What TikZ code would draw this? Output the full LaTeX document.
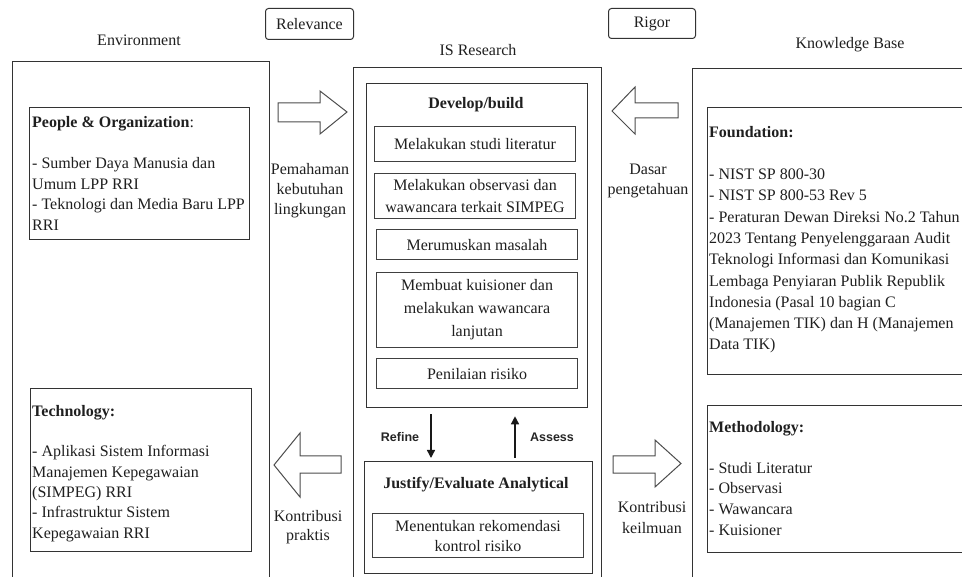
\documentclass[tikz,border=0pt]{standalone}
\usepackage{fontspec}
\setmainfont{Liberation Serif}
\newfontfamily\sansf{Liberation Sans}
\usetikzlibrary{arrows.meta}
\begin{document}
\begin{tikzpicture}[x=1pt,y=-1pt,
  box/.style={draw=black!80,line width=1.3pt,rectangle,inner sep=0pt,anchor=north west},
  inbox/.style={draw=black!75,line width=1.1pt,rectangle,inner sep=0pt,anchor=north west},
  tag/.style={draw=black!80,line width=1pt,rounded corners=3pt,rectangle,inner sep=0pt,anchor=north west},
  txt/.style={font=\fontsize{16}{20.5}\selectfont,inner sep=0pt,text=black!88},
  ltxt/.style={txt,align=left,anchor=base west},
  ctxt/.style={font=\fontsize{16}{22}\selectfont,inner sep=0pt,text=black!88,align=center},
  side/.style={font=\fontsize{16}{20}\selectfont,inner sep=0pt,text=black!88,align=center,anchor=base},
  blk/.style={draw=black!70,line width=1pt,line join=miter},
  flow/.style={draw=black!90,line width=1.4pt,-{Triangle[length=8pt,width=8pt]}},
  small/.style={font=\sansf\bfseries\fontsize{12.5}{14}\selectfont,inner sep=0pt,text=black!85}]
\useasboundingbox (0,0) rectangle (962,577);
\clip (0,0) rectangle (962,577);
% titles
\node[txt] (tenv) at (139,40) {Environment};
\node[txt] (tis) at (478,50) {IS Research};
\node[txt] (tkb) at (850,45) {Knowledge Base};
\node[tag,minimum width=88pt,minimum height=31pt] (relev) at (265,8) {};
\node[txt] (trelev) at (relev.center) {Relevance};
\node[tag,minimum width=87pt,minimum height=30pt] (rigor) at (608,8) {};
\node[txt] (trigor) at (rigor.center) {Rigor};
% outer columns
\node[box,minimum width=257pt,minimum height=540pt] (env) at (12,61) {};
\node[box,minimum width=248pt,minimum height=540pt] (isr) at (353,67) {};
\node[box,minimum width=290pt,minimum height=540pt] (kb) at (692,68) {};
% environment (anchor = baseline of the last line)
\node[box,minimum width=220pt,minimum height=132pt] (people) at (29,107) {};
\node[ltxt] (tpeople) at (32,230.5) {\textbf{People \& Organization}:\\ \\- Sumber Daya Manusia dan\\Umum LPP RRI\\- Teknologi dan Media Baru LPP\\RRI};
\node[box,minimum width=221pt,minimum height=163pt] (tech) at (30,388) {};
\node[ltxt,font=\fontsize{16}{20.3}\selectfont] (ttech) at (32,538) {\textbf{Technology:}\\ \\- Aplikasi Sistem Informasi\\Manajemen Kepegawaian\\(SIMPEG) RRI\\- Infrastruktur Sistem\\Kepegawaian RRI};
% knowledge base
\node[box,minimum width=270pt,minimum height=267pt] (found) at (707,107) {};
\node[ltxt,font=\fontsize{16}{21.3}\selectfont] (tfound) at (709,350) {\textbf{Foundation:}\\ \\- NIST SP 800-30\\- NIST SP 800-53 Rev 5\\- Peraturan Dewan Direksi No.2 Tahun\\2023 Tentang Penyelenggaraan Audit\\Teknologi Informasi dan Komunikasi\\Lembaga Penyiaran Publik Republik\\Indonesia (Pasal 10 bagian C\\(Manajemen TIK) dan H (Manajemen\\Data TIK)};
\node[box,minimum width=270pt,minimum height=147pt] (meth) at (707,405) {};
\node[ltxt,font=\fontsize{16}{20.6}\selectfont] (tmeth) at (709,535) {\textbf{Methodology:}\\ \\- Studi Literatur\\- Observasi\\- Wawancara\\- Kuisioner};
% IS research
\node[box,minimum width=221pt,minimum height=324pt] (dev) at (366,83) {};
\node[txt,font=\bfseries\fontsize{16}{20}\selectfont] (tdev) at (476,105) {Develop/build};
\node[inbox,minimum width=201pt,minimum height=35pt] (s1) at (374,126) {};
\node[ctxt] (ts1) at (s1.center) {Melakukan studi literatur};
\node[inbox,minimum width=201pt,minimum height=45pt] (s2) at (374,173) {};
\node[ctxt] (ts2) at (s2.center) {Melakukan observasi dan\\wawancara terkait SIMPEG};
\node[inbox,minimum width=201pt,minimum height=30pt] (s3) at (376,229) {};
\node[ctxt] (ts3) at (s3.center) {Merumuskan masalah};
\node[inbox,minimum width=201pt,minimum height=75pt] (s4) at (376,272) {};
\node[ctxt,font=\fontsize{16}{23}\selectfont] (ts4) at (s4.center) {Membuat kuisioner dan\\melakukan wawancara\\lanjutan};
\node[inbox,minimum width=201pt,minimum height=30pt] (s5) at (376,358) {};
\node[ctxt] (ts5) at (s5.center) {Penilaian risiko};
\node[box,minimum width=228pt,minimum height=112pt] (just) at (364,461) {};
\node[txt,font=\bfseries\fontsize{16}{20}\selectfont] (tjust) at (476,485) {Justify/Evaluate Analytical};
\node[inbox,minimum width=211pt,minimum height=44pt] (rek) at (372,513) {};
\node[ctxt,font=\fontsize{16}{20}\selectfont] (trek) at (rek.center) {Menentukan rekomendasi\\kontrol risiko};
% refine / assess
\coordinate (rx) at (431,0);
\coordinate (ax) at (515,0);
\draw[flow,shorten <=6pt,shorten >=3pt] (dev.south -| rx) -- (just.north -| rx);
\draw[flow,shorten <=3pt,shorten >=8pt] (just.north -| ax) -- (dev.south -| ax);
\node[small] (trefine) at (400,437) {Refine};
\node[small] (tassess) at (552,437) {Assess};
% block arrows
\draw[blk] (278,103) -- (320,103) -- (320,91) -- (347,112) -- (320,134) -- (320,122) -- (278,122) -- cycle;
\node[side] (lrel) at (310,215) {Pemahaman\\kebutuhan\\lingkungan};
\draw[blk] (678,103) -- (635,103) -- (635,87) -- (612,111) -- (635,134) -- (635,118) -- (678,118) -- cycle;
\node[side] (lrig) at (648,195) {Dasar\\pengetahuan};
\draw[blk] (341,456) -- (300,456) -- (300,433) -- (274,465) -- (300,497) -- (300,473) -- (341,473) -- cycle;
\node[side,font=\fontsize{16}{19}\selectfont] (lprak) at (308,540) {Kontribusi\\praktis};
\draw[blk] (613,456) -- (655,456) -- (655,440) -- (681,463.5) -- (655,487) -- (655,473) -- (613,473) -- cycle;
\node[side,font=\fontsize{16}{21}\selectfont] (lkeil) at (652,533) {Kontribusi\\keilmuan};
\end{tikzpicture}
\end{document}
